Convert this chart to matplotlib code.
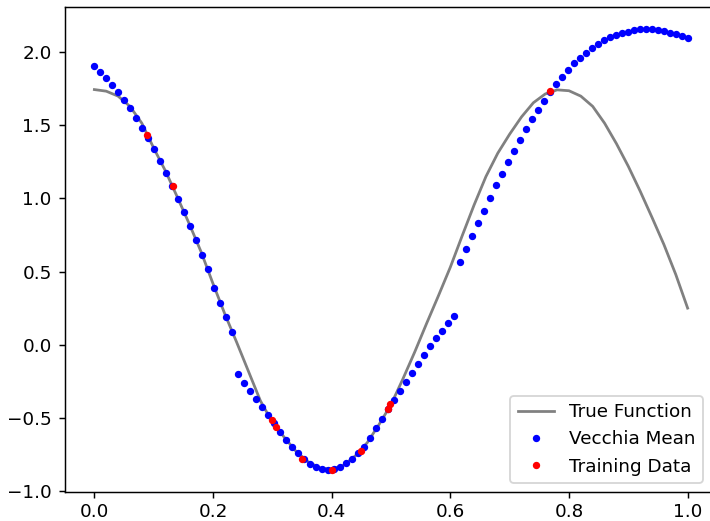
import numpy as np
import matplotlib
matplotlib.use("Agg")
import matplotlib.pyplot as plt

# true function, every 0.02
true_x = np.linspace(0, 1, 51)
true_y = [1.745, 1.734, 1.700, 1.630, 1.515, 1.345, 1.187, 1.008, 0.826, 0.634,
          0.417, 0.209, 0.015, -0.185, -0.385, -0.530, -0.633, -0.730, -0.800, -0.843,
          -0.852, -0.825, -0.760, -0.670, -0.545, -0.410, -0.235, -0.050, 0.145, 0.335,
          0.530, 0.745, 0.955, 1.150, 1.310, 1.440, 1.558, 1.655, 1.715, 1.743,
          1.737, 1.700, 1.630, 1.515, 1.375, 1.220, 1.050, 0.870, 0.685, 0.480,
          0.250]

# vecchia mean on 100 grid points
mean_x = np.linspace(0, 1, 100)
mean_y = [1.907, 1.868, 1.827, 1.779, 1.731, 1.675, 1.616, 1.552, 1.484, 1.411,
          1.338, 1.259, 1.177, 1.084, 0.997, 0.907, 0.811, 0.714, 0.616, 0.518,
          0.391, 0.288, 0.189, 0.087, -0.204, -0.259, -0.314, -0.369, -0.426, -0.481,
          -0.537, -0.595, -0.650, -0.700, -0.743, -0.780, -0.818, -0.838, -0.852, -0.854,
          -0.849, -0.834, -0.811, -0.782, -0.743, -0.697, -0.636, -0.573, -0.506, -0.443,
          -0.380, -0.316, -0.252, -0.191, -0.132, -0.070, -0.012, 0.043, 0.091, 0.145,
          0.196, 0.564, 0.652, 0.743, 0.830, 0.915, 1.004, 1.089, 1.170, 1.250,
          1.327, 1.402, 1.474, 1.543, 1.607, 1.670, 1.730, 1.781, 1.834, 1.881,
          1.924, 1.961, 1.997, 2.029, 2.057, 2.081, 2.102, 2.120, 2.134, 2.142,
          2.152, 2.156, 2.159, 2.156, 2.152, 2.145, 2.134, 2.122, 2.113, 2.100]

# training data
train_x = [0.088, 0.132, 0.300, 0.307, 0.350, 0.400, 0.450, 0.495, 0.499, 0.768]
train_y = [1.431, 1.084, -0.516, -0.566, -0.784, -0.857, -0.725, -0.442, -0.409, 1.733]

dpi = 132
fig = plt.figure(figsize=(710/dpi, 521/dpi), dpi=dpi)
ax = fig.add_axes([64.7/710, 29/521, 652.6/710, 485/521])

ax.plot(true_x, true_y, color='gray', label='True Function')
ax.plot(mean_x, mean_y, 'b.', label='Vecchia Mean')
ax.plot(train_x, train_y, 'r.', label='Training Data')

ax.tick_params(axis='x', pad=2.5)
ax.legend(loc='lower right', bbox_to_anchor=(0.992, 0.0))

fig.savefig('out.png', dpi=dpi)
